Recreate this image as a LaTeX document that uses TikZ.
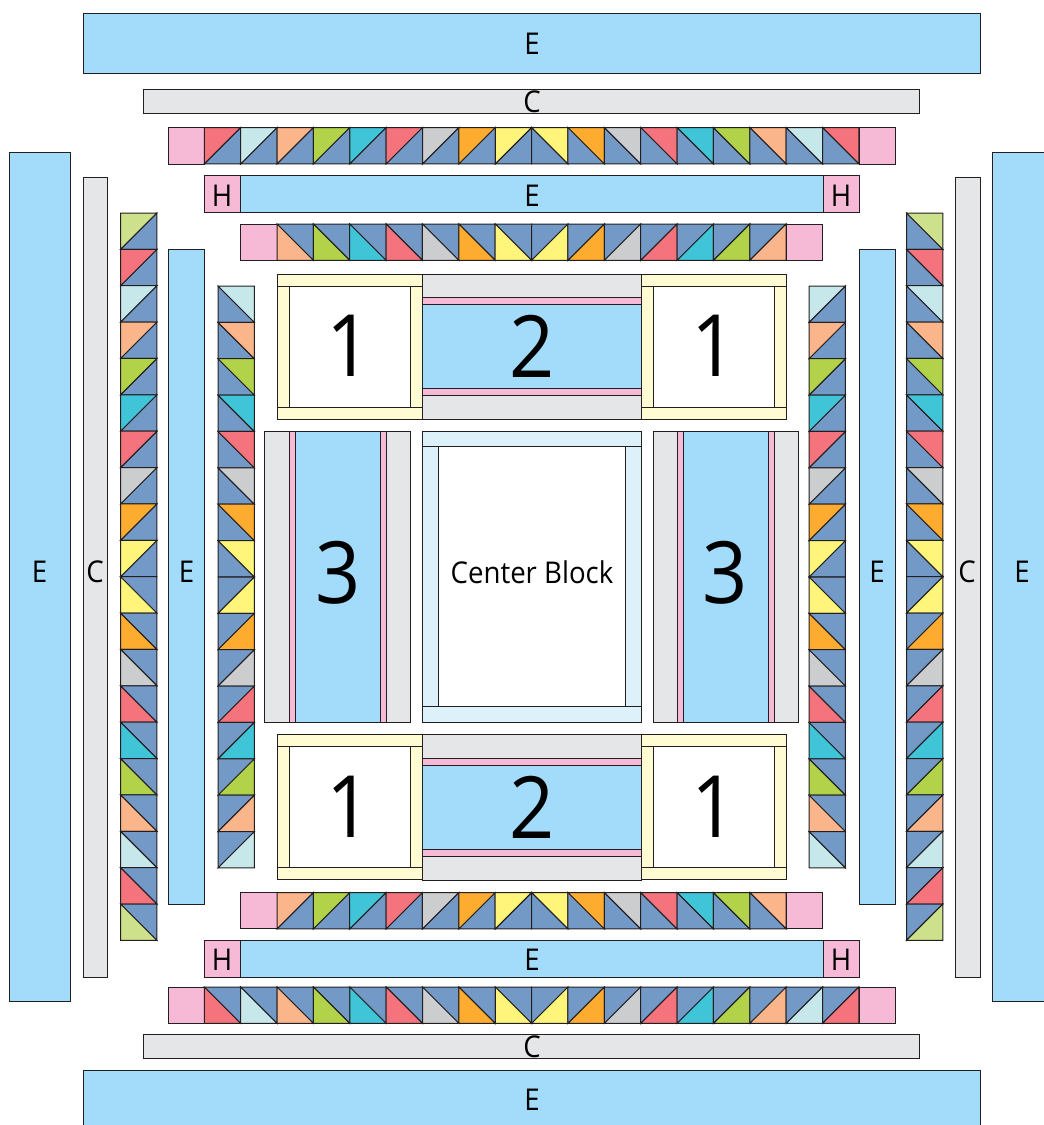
\documentclass[tikz,border=0pt]{standalone}
\usepackage{fontspec}
\setmainfont[FakeStretch=0.92]{Open Sans}
\definecolor{cEdge}{HTML}{231F20}
\definecolor{cSky}{HTML}{A3DCFA}
\definecolor{cGrey}{HTML}{E5E6E8}
\definecolor{cPink}{HTML}{F6BAD6}
\definecolor{cCream}{HTML}{FFFBD2}
\definecolor{cIce}{HTML}{DDF1FB}
\definecolor{qBlue}{HTML}{7399C6}
\definecolor{qRed}{HTML}{F4737D}
\definecolor{qIce}{HTML}{C7E8EB}
\definecolor{qPeach}{HTML}{FBB58A}
\definecolor{qGreen}{HTML}{B2D249}
\definecolor{qCyan}{HTML}{40C4D8}
\definecolor{qGrey}{HTML}{CCCDCF}
\definecolor{qOrange}{HTML}{FEAC2F}
\definecolor{qYellow}{HTML}{FFF57A}
\definecolor{qLime}{HTML}{CDE08C}
\tikzset{
  base/.style={draw=cEdge,line width=1pt},
  ebar/.style={base,fill=cSky},
  cbar/.style={base,fill=cGrey},
  hsq/.style={base,fill=cPink},
  frame/.style={base,fill=cCream},
  ice/.style={base,fill=cIce},
  blank/.style={base,fill=white},
  tri/.style={base},
  lbl/.style={font=\fontsize{30}{32}\selectfont,inner sep=0pt},
  big/.style={font=\fontsize{86}{90}\selectfont,inner sep=0pt}}
\def\sq{36.37}
% half-square cells, named by where the coloured half sits
\newcommand{\hstUL}[3]{\draw[tri,fill=qBlue] (#1+\sq,#2) -- ++(0,\sq) -- ++(-\sq,0) -- cycle;
  \draw[tri,fill=#3] (#1,#2) -- ++(\sq,0) -- ++(-\sq,\sq) -- cycle;}
\newcommand{\hstUR}[3]{\draw[tri,fill=qBlue] (#1,#2) -- ++(\sq,\sq) -- ++(-\sq,0) -- cycle;
  \draw[tri,fill=#3] (#1,#2) -- ++(\sq,0) -- ++(0,\sq) -- cycle;}
\newcommand{\hstLL}[3]{\draw[tri,fill=qBlue] (#1,#2) -- ++(\sq,0) -- ++(0,\sq) -- cycle;
  \draw[tri,fill=#3] (#1,#2) -- ++(\sq,\sq) -- ++(-\sq,0) -- cycle;}
\newcommand{\hstLR}[3]{\draw[tri,fill=qBlue] (#1,#2) -- ++(\sq,0) -- ++(-\sq,\sq) -- cycle;
  \draw[tri,fill=#3] (#1+\sq,#2) -- ++(0,\sq) -- ++(-\sq,0) -- cycle;}
\newcommand{\hrow}[4]{\foreach \c [count=\i from 0, evaluate=\i as \x using #2+\i*\sq] in #4 {#1{\x}{#3}{\c}}}
\newcommand{\vcol}[4]{\foreach \c [count=\i from 0, evaluate=\i as \y using #3+\i*\sq] in #4 {#1{#2}{\y}{\c}}}
% block 1: cream frame round a white square
\newcommand{\blockone}[2]{\draw[blank] (#1+12.3,#2+12) rectangle (#1+133.7,#2+133);
  \draw[frame] (#1,#2+12) rectangle (#1+12.3,#2+133);
  \draw[frame] (#1+133.7,#2+12) rectangle (#1+145.5,#2+133);
  \draw[frame] (#1,#2) rectangle (#1+145.5,#2+12);
  \draw[frame] (#1,#2+133) rectangle (#1+145.5,#2+145.2);}
\def\halfA{qPeach,qGreen,qCyan,qRed,qGrey,qOrange,qYellow}
\def\halfB{qYellow,qOrange,qGrey,qRed,qCyan,qGreen,qPeach}
\def\longA{qRed,qIce,qPeach,qGreen,qCyan,qRed,qGrey,qOrange,qYellow}
\def\longB{qYellow,qOrange,qGrey,qRed,qCyan,qGreen,qPeach,qIce,qRed}
\def\sideA{qIce,qPeach,qGreen,qCyan,qRed,qGrey,qOrange,qYellow}
\def\sideB{qYellow,qOrange,qGrey,qRed,qCyan,qGreen,qPeach,qIce}
\def\farA{qLime,qRed,qIce,qPeach,qGreen,qCyan,qRed,qGrey,qOrange,qYellow}
\def\farB{qYellow,qOrange,qGrey,qRed,qCyan,qGreen,qPeach,qIce,qRed,qLime}
\begin{document}
\begin{tikzpicture}[x=1pt,y=-1pt]
\useasboundingbox (0,0) rectangle (1044,1125);
% top borders
\draw[ebar] (83,13) rectangle (980,73);
\draw[cbar] (143.7,89) rectangle (919.7,113);
\draw[hsq] (168,127.5) rectangle (204.3,164);
\hrow{\hstUL}{204.3}{127.5}{\longA}
\hrow{\hstUR}{531.6}{127.5}{\longB}
\draw[hsq] (859,127.5) rectangle (895.6,164);
\draw[hsq] (204.3,175.5) rectangle (240.7,212);
\draw[ebar] (240.7,175.5) rectangle (823,212);
\draw[hsq] (823,175.5) rectangle (859,212);
\draw[hsq] (240.7,224) rectangle (277,260.5);
\hrow{\hstLL}{277}{224}{\halfA}
\hrow{\hstLR}{531.6}{224}{\halfB}
\draw[hsq] (786.2,224) rectangle (822.7,260.5);
% bottom borders
\draw[hsq] (240.7,892.5) rectangle (277,928.5);
\hrow{\hstUL}{277}{892.5}{\halfA}
\hrow{\hstUR}{531.6}{892.5}{\halfB}
\draw[hsq] (786.2,892.5) rectangle (822.7,928.5);
\draw[hsq] (204.3,940.5) rectangle (240.7,977);
\draw[ebar] (240.7,940.5) rectangle (823,977);
\draw[hsq] (823,940.5) rectangle (859,977);
\draw[hsq] (168,987) rectangle (204.3,1023.5);
\hrow{\hstLL}{204.3}{987}{\longA}
\hrow{\hstLR}{531.6}{987}{\longB}
\draw[hsq] (859,987) rectangle (895.6,1023.5);
\draw[cbar] (143.7,1034) rectangle (919.7,1058);
\draw[ebar] (83,1070) rectangle (980,1135);
% left borders
\draw[ebar] (9.5,152) rectangle (70.5,1001);
\draw[cbar] (83,177) rectangle (107,977);
\vcol{\hstUL}{120.5}{213}{\farA}
\vcol{\hstLL}{120.5}{576.7}{\farB}
\draw[ebar] (168,249.5) rectangle (204.5,904);
\vcol{\hstUR}{218}{286}{\sideA}
\vcol{\hstLR}{218}{577}{\sideB}
% right borders
\draw[ebar] (992,152) rectangle (1054,1001);
\draw[cbar] (955,177) rectangle (980,977);
\vcol{\hstUR}{906.5}{213}{\farA}
\vcol{\hstLR}{906.5}{576.7}{\farB}
\draw[ebar] (859,249.5) rectangle (895.5,904);
\vcol{\hstUL}{809}{286}{\sideA}
\vcol{\hstLL}{809}{577}{\sideB}
% blocks 1
\blockone{277}{274}
\blockone{641}{274}
\blockone{277}{734.5}
\blockone{641}{734.5}
% blocks 2
\draw[cbar] (422.5,274) rectangle (641,297.5);
\draw[hsq] (422.5,297.5) rectangle (641,304);
\draw[ebar] (422.5,304) rectangle (641,388.5);
\draw[hsq] (422.5,388.5) rectangle (641,395);
\draw[cbar] (422.5,395) rectangle (641,419);
\draw[cbar] (422.5,734.5) rectangle (641,758.5);
\draw[hsq] (422.5,758.5) rectangle (641,765.3);
\draw[ebar] (422.5,765.3) rectangle (641,849.7);
\draw[hsq] (422.5,849.7) rectangle (641,856);
\draw[cbar] (422.5,856) rectangle (641,880);
% blocks 3
\draw[cbar] (264.7,431) rectangle (289.3,722);
\draw[hsq] (289.3,431) rectangle (295.5,722);
\draw[ebar] (295.5,431) rectangle (380,722);
\draw[hsq] (380,431) rectangle (386.7,722);
\draw[cbar] (386.7,431) rectangle (410.7,722);
\draw[cbar] (653,431) rectangle (677.5,722);
\draw[hsq] (677.5,431) rectangle (683.7,722);
\draw[ebar] (683.7,431) rectangle (768.3,722);
\draw[hsq] (768.3,431) rectangle (774.5,722);
\draw[cbar] (774.5,431) rectangle (798.7,722);
% center block
\draw[blank] (438.3,446.7) rectangle (625.7,706.7);
\draw[ice] (422.5,446.7) rectangle (438.3,706.7);
\draw[ice] (625.7,446.7) rectangle (641,706.7);
\draw[ice] (422.5,431) rectangle (641,446.7);
\draw[ice] (422.5,706.7) rectangle (641,722);
% labels
\node[lbl] (eTop) at (532,44) {E};
\node[lbl] (cTop) at (532,102) {C};
\node[lbl] (hTopL) at (222,196) {H};
\node[lbl] (eTopIn) at (532,196) {E};
\node[lbl] (hTopR) at (841,196) {H};
\node[lbl] (hBotL) at (222,960) {H};
\node[lbl] (eBotIn) at (532,960) {E};
\node[lbl] (hBotR) at (841,960) {H};
\node[lbl] (cBot) at (532,1047) {C};
\node[lbl] (eBot) at (532,1100) {E};
\node[lbl] (eLeft) at (39.5,572) {E};
\node[lbl] (cLeft) at (95,572) {C};
\node[lbl] (eLeftIn) at (186.5,572) {E};
\node[lbl] (eRightIn) at (877,572) {E};
\node[lbl] (cRight) at (967,572) {C};
\node[lbl] (eRight) at (1022,572) {E};
\node[lbl] (centerLbl) at (532,572) {Center Block};
\node[big] (oneTL) at (349,346) {1};
\node[big] (twoT) at (532,346) {2};
\node[big] (oneTR) at (714,346) {1};
\node[big] (threeL) at (338,573) {3};
\node[big] (threeR) at (725.5,573) {3};
\node[big] (oneBL) at (349,807) {1};
\node[big] (twoB) at (532,807) {2};
\node[big] (oneBR) at (714,807) {1};
\end{tikzpicture}
\end{document}
